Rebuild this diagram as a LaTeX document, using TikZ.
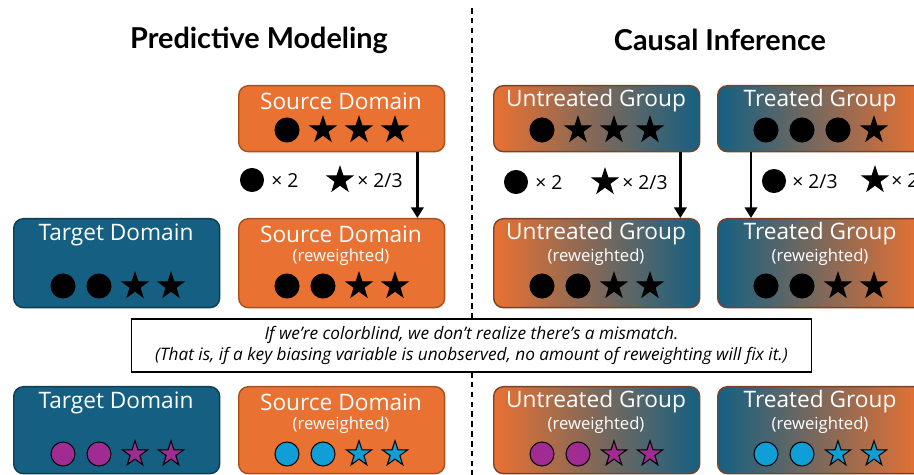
\documentclass[tikz,border=0pt]{standalone}
\usepackage{fontspec}
\setmainfont{Open Sans}
\newfontfamily\headfont{Lato}
\usetikzlibrary{positioning,arrows.meta,shapes.geometric}

\definecolor{orgC}{HTML}{E97132}
\definecolor{bluC}{HTML}{156082}
\definecolor{orgEdge}{HTML}{A9501F}
\definecolor{bluEdge}{HTML}{0E3D52}
\definecolor{mixEdge}{HTML}{7B4326}
\definecolor{purC}{HTML}{A02B93}
\definecolor{cyaC}{HTML}{0F9ED5}

\tikzset{
  grp/.style={rounded corners=5.5pt, minimum width=4.12cm, anchor=north west, line width=0.8pt, inner sep=0pt},
  orgbox/.style={grp, fill=orgC, draw=orgEdge},
  blubox/.style={grp, fill=bluC, draw=bluEdge},
  otbbox/.style={grp, left color=orgC, right color=bluC, draw=mixEdge},
  btobox/.style={grp, left color=bluC, right color=orgC, draw=mixEdge},
  ttl/.style={text=white, font=\fontsize{12.9}{14}\selectfont, inner sep=0pt, yshift=-1.2pt},
  sub/.style={text=white, font=\fontsize{9.5}{11}\selectfont, inner sep=0pt},
  dot/.style={circle, draw=black, fill=#1, minimum size=0.48cm, inner sep=0pt, line width=0.6pt},
  pt/.style={star, star points=5, star point ratio=2.6, draw=black, fill=#1, minimum size=0.53cm, inner sep=0pt, line width=0.6pt},
  wt/.style={font=\fontsize{11}{13}\selectfont, inner sep=0pt, anchor=west},
  head/.style={font=\headfont\bfseries\fontsize{16.4}{19}\selectfont, inner sep=0pt},
  arr/.style={line width=1.4pt, -{Triangle[width=7pt,length=6pt]}},
}

% one row of marks: (name, centre x, y, colour, shapes c/s)
\newcommand\markrow[5]{%
  \foreach \s [count=\i] in {#5} {
    \pgfmathsetmacro{\mx}{#2+(\i-2.5)*36}
    \if c\s \node[dot=#4] (#1\i) at (\mx,#3) {};
    \else \node[pt=#4] (#1\i) at (\mx,#3) {};
    \fi
  }%
}

\begin{document}
\begin{tikzpicture}[x=0.02cm, y=-0.02cm]
  \clip (0,0) rectangle (914,475);

  %----- headings and divider -----
  \node[head] (pmHead) at (259,40) {Predictive Modeling};
  \node[head] (ciHead) at (720,40) {Causal Inference};
  \coordinate (divTop) at (472,8);
  \coordinate (divBot) at (472,475);
  \draw[line width=0.6pt, dash pattern=on 3.2pt off 2.4pt] (divTop) -- (divBot);

  %----- row 1 -----
  \node[orgbox, minimum height=1.32cm] (srcTop) at (238,85) {};
  \node[ttl] (srcTopT) at (341,99) {Source Domain};
  \markrow{srcTopM}{341}{130}{black}{c,s,s,s}

  \node[otbbox, minimum height=1.32cm] (untTop) at (493,85) {};
  \node[ttl] (untTopT) at (596,99) {Untreated Group};
  \markrow{untTopM}{596}{130}{black}{c,s,s,s}

  \node[btobox, minimum height=1.32cm] (trtTop) at (717,85) {};
  \node[ttl] (trtTopT) at (820,99) {Treated Group};
  \markrow{trtTopM}{820}{130}{black}{c,c,c,s}

  %----- weights -----
  \node[dot=black, minimum size=0.46cm] (wSrcC) at (252,180) {};
  \node[wt] (wSrcCt) at (271,181) {× 2};
  \node[pt=black] (wSrcS) at (340,180) {};
  \node[wt] (wSrcSt) at (357,181) {× 2/3};

  \node[dot=black, minimum size=0.46cm] (wUntC) at (516,182) {};
  \node[wt] (wUntCt) at (535,183) {× 2};
  \node[pt=black] (wUntS) at (605,182) {};
  \node[wt] (wUntSt) at (622,183) {× 2/3};

  \node[dot=black, minimum size=0.46cm] (wTrtC) at (774,181) {};
  \node[wt] (wTrtCt) at (792,182) {× 2/3};
  \node[pt=black] (wTrtS) at (875,180) {};
  \node[wt] (wTrtSt) at (891,181) {× 2};

  %----- row 2 -----
  \node[blubox, minimum height=1.78cm] (tgtMid) at (13,218) {};
  \node[ttl] (tgtMidT) at (116,233) {Target Domain};
  \markrow{tgtMidM}{117}{286}{black}{c,c,s,s}

  \node[orgbox, minimum height=1.78cm] (srcMid) at (238,218) {};
  \node[ttl] (srcMidT) at (341,232) {Source Domain};
  \node[sub] (srcMidS) at (341,257) {(reweighted)};
  \markrow{srcMidM}{341}{286}{black}{c,c,s,s}

  \node[otbbox, minimum height=1.78cm] (untMid) at (493,218) {};
  \node[ttl] (untMidT) at (596,232) {Untreated Group};
  \node[sub] (untMidS) at (596,257) {(reweighted)};
  \markrow{untMidM}{596}{286}{black}{c,c,s,s}

  \node[btobox, minimum height=1.78cm] (trtMid) at (717,218) {};
  \node[ttl] (trtMidT) at (820,232) {Treated Group};
  \node[sub] (trtMidS) at (820,257) {(reweighted)};
  \markrow{trtMidM}{820}{286}{black}{c,c,s,s}

  %----- reweighting arrows -----
  \draw[arr] ([xshift=-0.56cm]srcTop.south east) -- ([xshift=-0.56cm]srcMid.north east);
  \draw[arr] ([xshift=-0.4cm]untTop.south east) -- ([xshift=-0.4cm]untMid.north east);
  \draw[arr] ([xshift=0.68cm]trtTop.south west) -- ([xshift=0.68cm]trtMid.north west);

  %----- note -----
  \node[draw, fill=white, line width=0.6pt, minimum width=13.62cm, minimum height=1.06cm,
        align=center, font=\itshape\fontsize{9.8}{12}\selectfont] (note) at (471.5,345.5)
    {If we’re colorblind, we don’t realize there’s a mismatch.\\
     (That is, if a key biasing variable is unobserved, no amount of reweighting will fix it.)};

  %----- row 3 (colours seen) -----
  \node[blubox, minimum height=1.74cm] (tgtBot) at (13,386) {};
  \node[ttl] (tgtBotT) at (116,401) {Target Domain};
  \markrow{tgtBotM}{117}{454}{purC}{c,c,s,s}

  \node[orgbox, minimum height=1.74cm] (srcBot) at (238,386) {};
  \node[ttl] (srcBotT) at (341,400) {Source Domain};
  \node[sub] (srcBotS) at (341,425) {(reweighted)};
  \markrow{srcBotM}{341}{454}{cyaC}{c,c,s,s}

  \node[otbbox, minimum height=1.74cm] (untBot) at (493,386) {};
  \node[ttl] (untBotT) at (596,400) {Untreated Group};
  \node[sub] (untBotS) at (596,425) {(reweighted)};
  \markrow{untBotM}{596}{454}{purC}{c,c,s,s}

  \node[btobox, minimum height=1.74cm] (trtBot) at (717,386) {};
  \node[ttl] (trtBotT) at (820,400) {Treated Group};
  \node[sub] (trtBotS) at (820,425) {(reweighted)};
  \markrow{trtBotM}{820}{454}{cyaC}{c,c,s,s}
\end{tikzpicture}
\end{document}
